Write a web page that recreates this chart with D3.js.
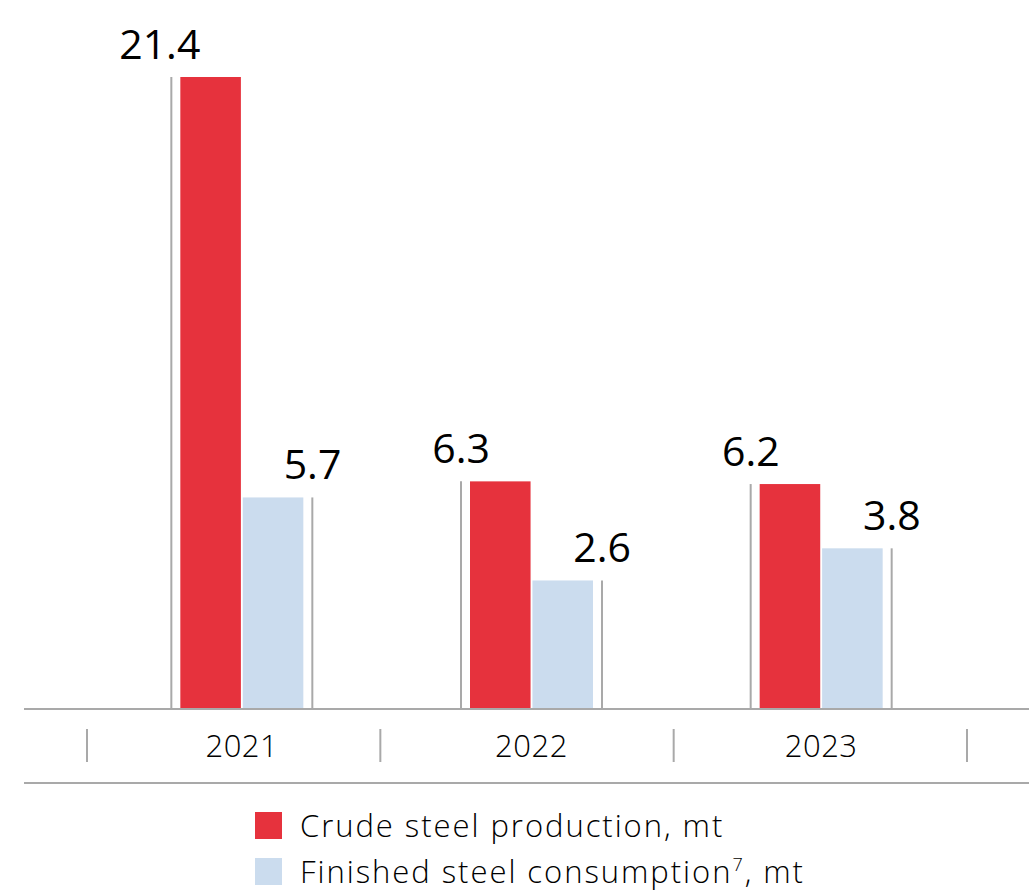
<!DOCTYPE html>
<html>
<head>
<meta charset="utf-8">
<script src="https://cdn.jsdelivr.net/npm/d3@7"></script>
<style>
  html, body { margin: 0; padding: 0; background: #fff; }
  svg { display: block; }
  text { font-family: "Open Sans", "DejaVu Sans", sans-serif; fill: #000; }
</style>
</head>
<body>
<svg id="chart" width="1029" height="892"></svg>
<script>
// ---- data ----
const years = ["2021", "2022", "2023"];
const seriesKeys = ["crude", "finished"];
const crudeSteel = [21.4, 6.3, 6.2];
const finishedSteel = [5.7, 2.6, 3.8];
const valueLabels = { crude: ["21.4", "6.3", "6.2"], finished: ["5.7", "2.6", "3.8"] };
const legendLabels = ["Crude steel production, mt", "Finished steel consumption"];
const legendSup = ["", "7"];
const legendSuffix = ["", ", mt"];

// ---- layout ----
const W = 1029, H = 892;
const baseY = 709, topY = 77;
const colors = { crude: "#e6323d", finished: "#cbdcee" };
const gridColor = "#a9a9a9";

const svg = d3.select("#chart");

const data = years.map((y, i) => ({ year: y, crude: crudeSteel[i], finished: finishedSteel[i], idx: i }));

const x0 = d3.scaleBand().domain(years).range([97, 966]);
const xSep = d3.scaleBand().domain(years).range([87, 967]);
const groupW = 123;
const x1 = d3.scaleBand().domain(seriesKeys).range([0, groupW]).paddingInner(0.03);
const y = d3.scaleLinear().domain([-2.2, 21.4]).range([baseY, topY]);

const groups = svg.append("g").selectAll("g").data(data).join("g")
  .attr("transform", d => `translate(${x0(d.year) + x0.bandwidth() / 2 - groupW / 2},0)`);

const items = d => seriesKeys.map(k => ({ key: k, value: d[k], idx: d.idx }));
const guideX = d => d.key === "crude" ? x1(d.key) - 9 : x1(d.key) + x1.bandwidth() + 9;

groups.selectAll("rect").data(items).join("rect")
  .attr("x", d => x1(d.key))
  .attr("width", x1.bandwidth())
  .attr("y", d => y(d.value))
  .attr("height", d => baseY - y(d.value))
  .attr("fill", d => colors[d.key]);

groups.selectAll("line.guide").data(items).join("line")
  .attr("class", "guide")
  .attr("x1", guideX).attr("x2", guideX)
  .attr("y1", d => y(d.value))
  .attr("y2", baseY)
  .attr("stroke", gridColor)
  .attr("stroke-width", 2);

groups.selectAll("text.val").data(items).join("text")
  .attr("class", "val")
  .attr("x", d => guideX(d) + 29)
  .attr("y", d => y(d.value) - 18)
  .attr("text-anchor", "end")
  .attr("font-size", 41)
  .text(d => valueLabels[d.key][d.idx]);

svg.append("line").attr("x1", 24).attr("x2", W).attr("y1", baseY).attr("y2", baseY)
  .attr("stroke", gridColor).attr("stroke-width", 2);
svg.append("line").attr("x1", 24).attr("x2", W).attr("y1", 783).attr("y2", 783)
  .attr("stroke", gridColor).attr("stroke-width", 2);

const sepX = years.map(yv => xSep(yv)).concat([xSep.range()[1]]);
svg.append("g").selectAll("line").data(sepX).join("line")
  .attr("x1", d => d).attr("x2", d => d)
  .attr("y1", 729).attr("y2", 762)
  .attr("stroke", gridColor).attr("stroke-width", 2);

svg.append("g").selectAll("text").data(years).join("text")
  .attr("x", d => x0(d) + x0.bandwidth() / 2)
  .attr("y", 757)
  .attr("text-anchor", "middle")
  .attr("font-size", 31)
  .attr("font-weight", 300)
  .attr("letter-spacing", 0.5)
  .text(d => d);

const leg = svg.append("g").selectAll("g").data(seriesKeys).join("g")
  .attr("transform", (d, i) => `translate(255,${812 + i * 46})`);
leg.append("rect").attr("width", 27).attr("height", 27).attr("fill", d => colors[d]);
const lt = leg.append("text").attr("x", 45).attr("y", 25).attr("font-size", 31)
  .attr("font-weight", 300).attr("letter-spacing", 1.95);
lt.append("tspan").text((d, i) => legendLabels[i]);
lt.append("tspan").attr("font-size", 18).attr("dy", -12).text((d, i) => legendSup[i]);
lt.append("tspan").attr("dy", 12).text((d, i) => legendSuffix[i]);
</script>
</body>
</html>
